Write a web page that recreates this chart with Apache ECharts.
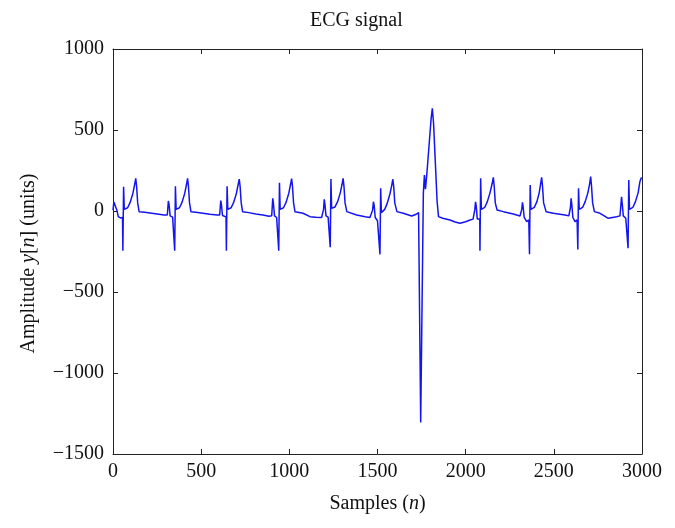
<!DOCTYPE html>
<html>
<head>
<meta charset="utf-8">
<script src="https://cdn.jsdelivr.net/npm/echarts@6/dist/echarts.min.js"></script>
<style>html,body{margin:0;padding:0;background:#fff}#c{width:675px;height:528px}</style>
</head>
<body>
<div id="c"></div>
<script>
const titleText = 'ECG signal';
const xMin = 0, xMax = 3000, xStep = 500;
const yMin = -1500, yMax = 1000, yStep = 500;

const samples = [
0,5,10,15,22,30,42,54,56,60,64,70,83,98,113,123,129,134,140,148,180,220,260,290,
300,308,311,314,318,324,338,348,350,354,358,364,377,392,407,417,423,428,434,442,470,510,550,590,
600,605,608,611,615,621,631,641,643,647,651,657,670,685,700,710,716,721,727,735,770,810,850,885,
895,900,903,906,910,916,928,938,940,944,948,954,967,982,997,1007,1013,1018,1024,1032,1078,1117,1150,1183,
1190,1194,1198,1202,1208,1220,1230,1232,1236,1240,1246,1259,1274,1289,1299,1305,1310,1316,1326,1382,1430,1457,
1468,1472,1477,1481,1487,1500,1510,1514,1518,1522,1528,1541,1556,1571,1581,1587,1592,1598,1610,1646,1694,1720,1733,
1745,1760,1766,1772,1780,1792,1804,1811,1818,1828,1838,1846,1870,1911,1940,1968,2000,2025,2042,
2048,2052,2056,2060,2066,2074,2080,2081,2085,2089,2095,2108,2123,2138,2150,2157,2162,2168,2178,2214,2270,2308,
2314,2318,2322,2326,2332,2346,2358,2362,2366,2370,2376,2389,2404,2417,2425,2431,2436,2442,2456,2497,2563,2585,
2590,2594,2598,2602,2608,2620,2632,2636,2640,2644,2650,2663,2678,2693,2703,2709,2714,2720,2730,2762,2809,2856,2875,
2879,2884,2888,2894,2908,2919,2921,2925,2929,2935,2948,2963,2978,2988,2996,3000
];
const amplitude = [
5,55,67,58,5,-35,-43,-40,-245,150,10,4,20,55,110,165,202,150,50,-4,-8,-14,-20,-25,
-27,-25,20,62,40,-30,-38,-38,-245,153,10,4,20,55,110,165,202,150,50,-4,-8,-14,-20,-25,
-27,-25,20,64,40,-28,-36,-36,-245,153,10,4,20,55,110,165,197,150,50,-4,-10,-18,-25,-32,
-33,-30,25,78,45,-30,-40,-40,-245,175,10,4,20,55,110,165,200,150,50,-4,-14,-35,-38,-40,
-38,10,72,40,-30,-38,-38,-224,197,16,10,25,58,112,165,202,150,50,-4,-25,-35,-40,
-40,5,57,35,-40,-60,-50,-268,140,-10,-20,10,50,108,160,196,150,50,-4,-14,-31,-20,-10,
-1306,109,222,134,230,400,570,634,540,300,60,-35,-45,-56,-68,-76,-66,-56,-50,
-45,10,57,30,-50,-56,-50,-245,202,10,6,22,58,112,168,208,150,50,6,-4,-18,-31,
-30,10,53,25,-40,-66,-55,-267,160,10,6,22,58,112,168,208,150,50,-4,-14,-25,-30,
-28,20,78,40,-40,-66,-55,-237,140,10,6,22,58,112,168,212,150,50,-4,-14,-45,-35,-30,
20,88,45,-30,-45,-40,-230,191,10,6,22,58,112,180,205,200
];

const serif = '"Liberation Serif", "DejaVu Serif", serif';
const points = samples.map((n, i) => [n, amplitude[i]]);
const axisLineStyle = { color: '#222', width: 1 };
const fmt = v => String(v).replace('-', '\u2212');

const chart = echarts.init(document.getElementById('c'), null, { renderer: 'canvas' });
chart.setOption({
  animation: false,
  backgroundColor: '#fff',
  title: {
    text: titleText, left: 305, top: 6,
    textStyle: { fontFamily: serif, fontSize: 20, fontWeight: 'normal', color: '#111' }
  },
  grid: { left: 113, right: 33, top: 49, bottom: 74, containLabel: false },
  xAxis: [{
    type: 'value', min: xMin, max: xMax, interval: xStep, position: 'bottom',
    name: '{a|Samples (}{i|n}{a|)}', nameLocation: 'middle', nameGap: 40,
    nameTextStyle: { rich: {
      a: { fontFamily: serif, fontSize: 20, color: '#111' },
      i: { fontFamily: serif, fontSize: 20, fontStyle: 'italic', color: '#111' } } },
    axisLine: { show: true, onZero: false, lineStyle: axisLineStyle },
    axisTick: { show: true, inside: true, length: 5, lineStyle: axisLineStyle },
    axisLabel: { fontFamily: serif, fontSize: 20, color: '#111', margin: 8, formatter: fmt },
    splitLine: { show: false }
  }, {
    type: 'value', min: xMin, max: xMax, interval: xStep, position: 'top',
    axisLine: { show: true, onZero: false, lineStyle: axisLineStyle },
    axisTick: { show: true, inside: true, length: 5, lineStyle: axisLineStyle },
    axisLabel: { show: false }, splitLine: { show: false }
  }],
  yAxis: [{
    type: 'value', min: yMin, max: yMax, interval: yStep, position: 'left',
    name: '{a|Amplitude }{i|y}{a|[}{i|n}{a|] (units)}', nameLocation: 'middle', nameGap: 74,
    nameTextStyle: { padding: [0, 24, 0, 0], rich: {
      a: { fontFamily: serif, fontSize: 20, color: '#111' },
      i: { fontFamily: serif, fontSize: 20, fontStyle: 'italic', color: '#111' } } },
    axisLine: { show: true, onZero: false, lineStyle: axisLineStyle },
    axisTick: { show: true, inside: true, length: 5, lineStyle: axisLineStyle },
    axisLabel: { fontFamily: serif, fontSize: 20, color: '#111', margin: 9, formatter: fmt },
    splitLine: { show: false }
  }, {
    type: 'value', min: yMin, max: yMax, interval: yStep, position: 'right',
    axisLine: { show: true, onZero: false, lineStyle: axisLineStyle },
    axisTick: { show: true, inside: true, length: 5, lineStyle: axisLineStyle },
    axisLabel: { show: false }, splitLine: { show: false }
  }],
  series: [{
    type: 'line', data: points, xAxisIndex: 0, yAxisIndex: 0,
    showSymbol: false, symbol: 'none', smooth: false,
    lineStyle: { color: '#1414f0', width: 1.5 }
  }]
});
</script>
</body>
</html>
